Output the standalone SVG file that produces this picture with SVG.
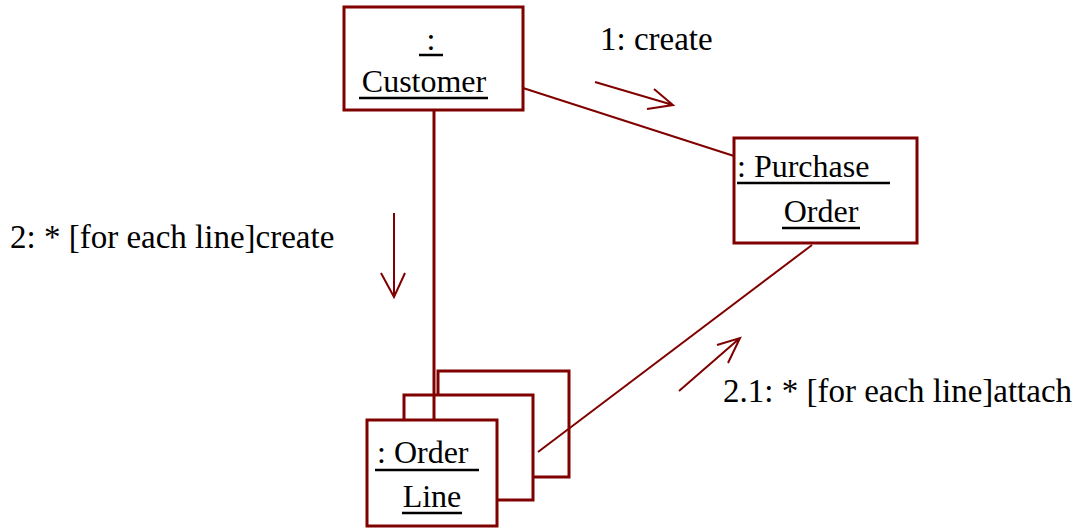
<svg xmlns="http://www.w3.org/2000/svg" width="1077" height="528" viewBox="0 0 1077 528">
<style>
.box{fill:#fff;stroke:#800000;stroke-width:3}
.ul{stroke:#000;stroke-width:2.5}
.con{stroke:#800000;stroke-width:2;fill:none}
.t{font-family:"Liberation Serif","DejaVu Serif",serif;font-size:32px;fill:#000}
.lb{font-size:33px}
</style>
<rect width="1077" height="528" fill="#fff"/>
<g id="customer">
<rect class="box" x="344" y="7" width="179" height="103"/>
<text class="t" x="431" y="50" text-anchor="middle">:</text>
<line class="ul" x1="419" y1="55" x2="443" y2="55"/>
<text class="t" x="424" y="92" text-anchor="middle">Customer</text>
<line class="ul" x1="359" y1="98" x2="488" y2="98"/>
</g>
<g id="purchase-order">
<rect class="box" x="734" y="138" width="183" height="105"/>
<text class="t" x="737" y="177">: Purchase</text>
<line class="ul" x1="737" y1="183" x2="890" y2="183"/>
<text class="t" x="821" y="222" text-anchor="middle">Order</text>
<line class="ul" x1="782" y1="228" x2="860" y2="228"/>
</g>
<g id="order-line">
<rect class="box" x="438" y="371" width="131" height="106"/>
<rect class="box" x="404" y="395" width="129" height="105"/>
<rect class="box" x="367" y="420" width="130" height="106"/>
<text class="t" x="377" y="463">: Order</text>
<line class="ul" x1="375" y1="470" x2="479" y2="470"/>
<text class="t" x="432" y="507" text-anchor="middle">Line</text>
<line class="ul" x1="402" y1="513" x2="462" y2="513"/>
</g>
<g id="connectors">
<line class="con" x1="523" y1="88" x2="734" y2="156"/>
<line class="con" style="stroke-width:3" x1="434" y1="110" x2="434" y2="420"/>
<line class="con" x1="538" y1="452" x2="812" y2="245"/>
<path class="con" d="M595 82 L673 105 M654 89 L673 105 L647 109"/>
<path class="con" d="M394 213 L394 297 M381 273 L394 297 L405 273"/>
<path class="con" d="M679 391 L740 338 M717 345 L740 338 L728 363"/>
</g>
<g id="labels">
<text class="t lb" x="600" y="50">1: create</text>
<text class="t lb" x="10" y="248">2: * [for each line]create</text>
<text class="t lb" x="723" y="402">2.1: * [for each line]attach</text>
</g>
</svg>
